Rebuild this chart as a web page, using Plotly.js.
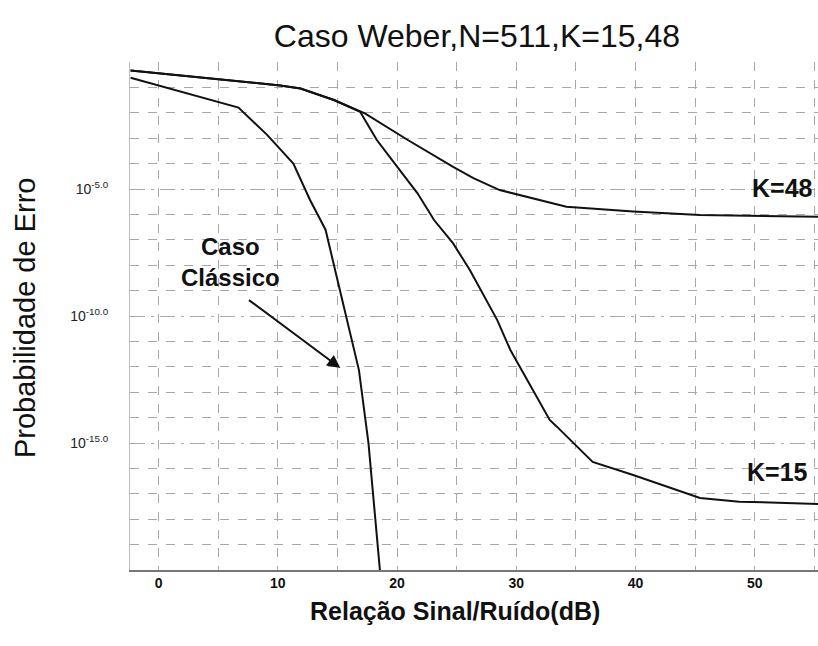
<!DOCTYPE html>
<html>
<head>
<meta charset="utf-8">
<script src="https://cdn.plot.ly/plotly-3.0.1.min.js"></script>
<style>html,body{margin:0;padding:0;background:#fff;}#chart{width:818px;height:646px;}</style>
</head>
<body>
<div id="chart"></div>
<script>
// SNR (dB) and error probability
const classicoX = [-2.35, 6.7, 9.1, 11.3, 12.7, 14.0, 15.0, 15.8, 16.8, 17.6, 18.2, 18.6, 18.75];
const classicoY = [2.4e-1, 1.6e-2, 1.35e-3, 1.0e-4, 3.7e-6, 2.5e-7, 2.6e-9, 6.9e-11, 7.4e-13, 9.8e-16, 9.3e-19, 1.0e-20, 1.0e-21];

const k15X = [-2.35, 10.2, 11.9, 14.7, 16.9, 18.3, 20.0, 21.7, 23.1, 24.7, 26.1, 28.4, 29.5, 30.6, 32.8, 33.4, 36.4, 39.8, 45.4, 48.7, 55.3];
const k15Y = [4.6e-1, 1.2e-1, 9.1e-2, 3.2e-2, 1.1e-2, 8.5e-4, 7.6e-5, 6.9e-6, 6.0e-7, 7.2e-8, 6.5e-9, 6.9e-11, 4.6e-12, 5.5e-13, 8.1e-15, 4.4e-15, 1.8e-16, 5.5e-17, 6.8e-18, 4.9e-18, 4.0e-18];

const k48X = [-2.35, 10.2, 11.9, 14.7, 17.3, 20.9, 24.7, 26.4, 28.6, 34.2, 39.8, 45.4, 55.3];
const k48Y = [4.6e-1, 1.2e-1, 9.1e-2, 3.2e-2, 9.5e-3, 8.5e-4, 7.4e-5, 2.7e-5, 9.1e-6, 2.0e-6, 1.3e-6, 9.5e-7, 8.1e-7];

const xTickVals = [0, 10, 20, 30, 40, 50];
const xTickText = ['0', '10', '20', '30', '40', '50'];
const yTickVals = [1e-5, 1e-10, 1e-15];
const yTickText = ['10<sup>-5.0</sup>', '10<sup>-10.0</sup>', '10<sup>-15.0</sup>'];
const yMinorVals = [1e-1,1e-2,1e-3,1e-4,1e-6,1e-7,1e-8,1e-9,1e-11,1e-12,1e-13,1e-14,1e-16,1e-17,1e-18,1e-19];

const lineStyle = {color: '#111', width: 2};
const traces = [
  {x: classicoX, y: classicoY, mode: 'lines', line: lineStyle, name: 'Caso Clássico'},
  {x: k15X, y: k15Y, mode: 'lines', line: lineStyle, name: 'K=15'},
  {x: k48X, y: k48Y, mode: 'lines', line: lineStyle, name: 'K=48'}
];

const font = 'Liberation Sans, Arial, sans-serif';
const grid = '#a8a8a8';
const layout = {
  width: 818, height: 646,
  margin: {l: 130, r: 0, t: 62, b: 76},
  paper_bgcolor: '#fff', plot_bgcolor: '#fff',
  showlegend: false,
  font: {family: font, color: '#111'},
  title: {text: 'Caso Weber,N=511,K=15,48', font: {size: 32, family: font, color: '#111'},
          x: 0.583, xanchor: 'center', y: 0.944, yanchor: 'middle'},
  xaxis: {
    type: 'linear', range: [-2.4, 55.3],
    tickmode: 'array', tickvals: xTickVals, ticktext: xTickText,
    tickfont: {size: 14, family: font, weight: 'bold', color: '#111'},
    ticks: '', showgrid: true, gridcolor: grid, griddash: 'dash', gridwidth: 1,
    minor: {tickmode: 'array', tickvals: [5, 15, 25, 35, 45, 55], showgrid: true, gridcolor: grid, griddash: 'dash', gridwidth: 1},
    showline: true, linecolor: '#777', linewidth: 1.5, zeroline: false,
    ticklabelstandoff: 0
  },
  yaxis: {
    type: 'log', range: [-20, 0],
    tickmode: 'array', tickvals: yTickVals, ticktext: yTickText,
    tickfont: {size: 14, family: font, color: '#222'},
    ticks: '', ticklabelstandoff: 18,
    showgrid: true, gridcolor: grid, griddash: 'longdashdot', gridwidth: 1,
    minor: {tickmode: 'array', tickvals: yMinorVals, showgrid: true, gridcolor: grid, griddash: 'dash', gridwidth: 1},
    showline: true, linecolor: '#bbb', linewidth: 1, zeroline: false
  },
  annotations: [
    {xref: 'paper', yref: 'paper', x: -0.1526, y: 0.496, text: 'Probabilidade de Erro', textangle: -90,
     showarrow: false, font: {size: 29, family: font, color: '#111'}, xanchor: 'center', yanchor: 'middle'},
    {xref: 'paper', yref: 'paper', x: 0.472, y: -0.081, text: 'Relação Sinal/Ruído(dB)',
     showarrow: false, font: {size: 25, family: font, weight: 'bold', color: '#111'}, xanchor: 'center', yanchor: 'middle'},
    {xref: 'x', yref: 'y', x: 6.03, y: -7.87, text: 'Caso<br>Clássico', showarrow: false,
     font: {size: 24, family: font, weight: 'bold', color: '#111'}, xanchor: 'center', yanchor: 'middle'},
    {xref: 'x', yref: 'y', x: 15.24, y: -12.05, axref: 'x', ayref: 'y', ax: 7.45, ay: -9.33, text: '',
     showarrow: true, arrowhead: 2, arrowsize: 1.3, arrowwidth: 2, arrowcolor: '#111'},
    {xref: 'x', yref: 'y', x: 52.3, y: -4.96, text: 'K=48', showarrow: false,
     font: {size: 25, family: font, weight: 'bold', color: '#111'}, xanchor: 'center', yanchor: 'middle'},
    {xref: 'x', yref: 'y', x: 51.93, y: -16.13, text: 'K=15', showarrow: false,
     font: {size: 25, family: font, weight: 'bold', color: '#111'}, xanchor: 'center', yanchor: 'middle'}
  ]
};

Plotly.newPlot('chart', traces, layout, {staticPlot: true, displayModeBar: false});
</script>
</body>
</html>
